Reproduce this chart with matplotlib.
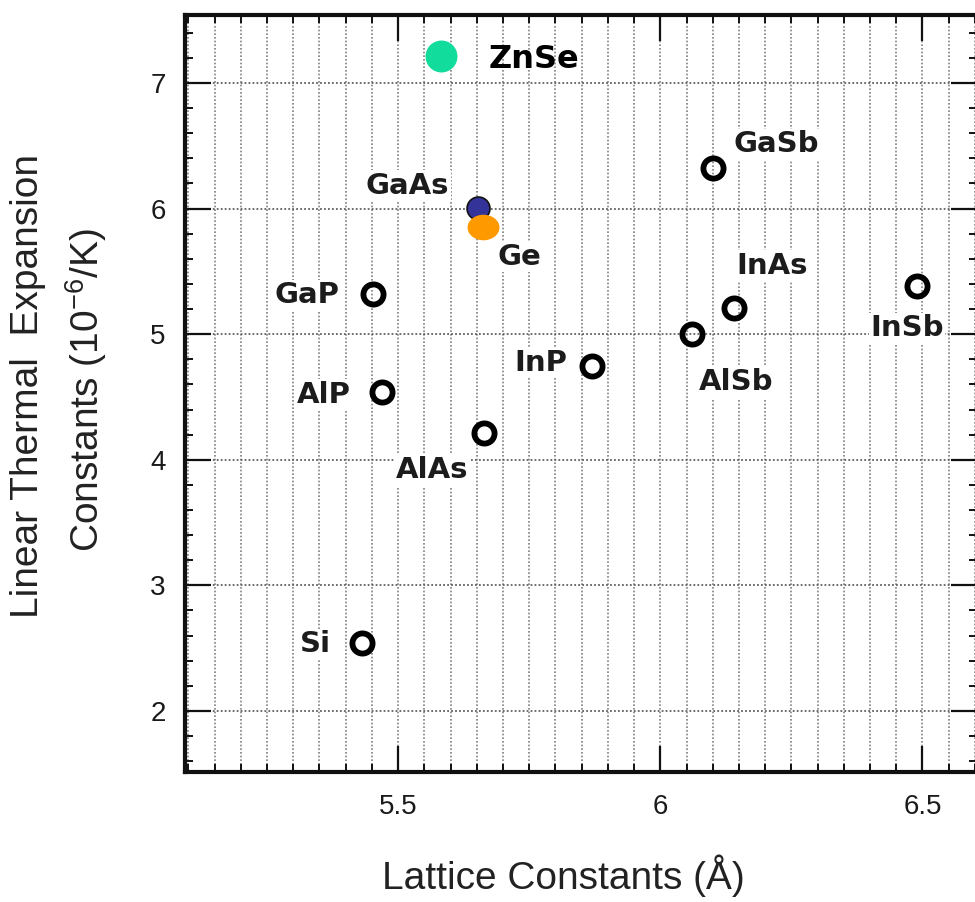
import numpy as np
import matplotlib.pyplot as plt
from matplotlib.ticker import MultipleLocator, FuncFormatter
from matplotlib.path import Path
from matplotlib.transforms import Affine2D
from matplotlib.markers import MarkerStyle

plt.rcParams['font.family'] = ['Liberation Sans', 'DejaVu Sans']
plt.rcParams['mathtext.default'] = 'regular'

# semiconductors drawn as open circles
names = ['Si', 'GaP', 'AlP', 'AlAs', 'InP', 'AlSb', 'InAs', 'GaSb', 'InSb']
lattice = [5.431, 5.452, 5.469, 5.664, 5.870, 6.061, 6.141, 6.101, 6.490]
expansion = [2.54, 5.32, 4.54, 4.21, 4.75, 5.00, 5.21, 6.32, 5.38]

# highlighted materials (filled, coloured)
hl_names = ['ZnSe', 'GaAs', 'Ge']
hl_lattice = [5.582, 5.653, 5.662]
hl_expansion = [7.215, 6.005, 5.853]

x_ticks = [5.5, 6.0, 6.5]
y_ticks = [2, 3, 4, 5, 6, 7]

# where each label sits relative to its point (pixels, y up)
label_offset = {
    'Si': (-47, -1), 'GaP': (-66, -1), 'AlP': (-58, -3), 'AlAs': (-52, -37),
    'InP': (-51, 3), 'AlSb': (44, -48), 'InAs': (38, 42), 'GaSb': (63, 24),
    'InSb': (-10, -42), 'GaAs': (-71, 22), 'Ge': (36, -30),
}

fig = plt.figure(figsize=(9.75, 9.02), dpi=100)
ax = fig.add_axes([185/975, 130/902, (977-185)/975, 757/902])
ax.set_xlim(5.0935, 6.604)
ax.set_ylim(1.514, 7.541)

# grid: dotted verticals every 0.05, dotted horizontals at integers
ax.set_axisbelow(True)
ax.xaxis.set_major_locator(MultipleLocator(0.5))
ax.xaxis.set_minor_locator(MultipleLocator(0.05))
ax.yaxis.set_major_locator(MultipleLocator(1))
ax.yaxis.set_minor_locator(MultipleLocator(0.2))
ax.grid(which='both', axis='x', color='#808080', linestyle=(0, (1, 1.2)), linewidth=1.2)
ax.grid(which='major', axis='y', color='#606060', linestyle=(0, (1, 1.2)), linewidth=1.3)

ax.tick_params(which='both', direction='in', top=True, right=True, colors='#111111')
ax.tick_params(which='major', length=19, width=1.6, labelsize=20, labelcolor='#1a1a1a')
ax.tick_params(which='minor', length=6, width=1.4)
ax.tick_params(axis='x', which='major', pad=16)
ax.tick_params(axis='y', which='major', pad=14)
fmt = FuncFormatter(lambda v, p: '%g' % v)
ax.xaxis.set_major_formatter(fmt)
ax.yaxis.set_major_formatter(fmt)
for s in ax.spines.values():
    s.set_linewidth(3)
    s.set_color('#111111')

# open circles
ax.plot(lattice, expansion, 'o', ms=14.5, mew=4.2, mec='black', mfc='none',
        linestyle='none', zorder=4)
for n, xv, yv in zip(names, lattice, expansion):
    ax.annotate(n, (xv, yv), xytext=label_offset[n], textcoords='offset pixels',
                ha='center', va='center', fontsize=21, fontweight='bold',
                family='DejaVu Sans', color='#1c1c1c', zorder=3,
                bbox=dict(facecolor='white', edgecolor='none', pad=1))

# highlighted points
ax.plot(hl_lattice[0], hl_expansion[0], 'o', ms=23, color='#12dc9c', mec='none', zorder=5)
ax.plot(hl_lattice[1], hl_expansion[1], 'o', ms=16.5, color='#333399', mec='#111111',
        mew=1.2, zorder=5)
ellipse = MarkerStyle(Path.unit_circle().transformed(Affine2D().scale(1.0, 0.8)))
ax.plot(hl_lattice[2], hl_expansion[2], marker=ellipse, ms=23, color='#ff9900',
        mec='none', linestyle='none', zorder=6)
for n in hl_names[1:]:
    i = hl_names.index(n)
    ax.annotate(n, (hl_lattice[i], hl_expansion[i]), xytext=label_offset[n],
                textcoords='offset pixels', ha='center', va='center', fontsize=21,
                fontweight='bold', family='DejaVu Sans', color='#1c1c1c', zorder=3,
                bbox=dict(facecolor='white', edgecolor='none', pad=1))
ax.annotate(hl_names[0], (hl_lattice[0], hl_expansion[0]), xytext=(47, -4),
            textcoords='offset pixels', ha='left', va='center', fontsize=23,
            fontweight='bold', family='DejaVu Sans', color='black', zorder=7)

# axis titles
fig.text(563/975, 1 - 876/902, 'Lattice Constants (Å)', ha='center', va='center',
         fontsize=28, color='#222222')
fig.text(28/975, 1 - 386/902, 'Linear Thermal  Expansion', rotation=90,
         ha='center', va='center', fontsize=28, color='#222222')
fig.text(86/975, 1 - 390/902, 'Constants (10$^{-6}$/K)', rotation=90,
         ha='center', va='center', fontsize=28, color='#222222')

fig.savefig('out.png', dpi=100, facecolor='white')
